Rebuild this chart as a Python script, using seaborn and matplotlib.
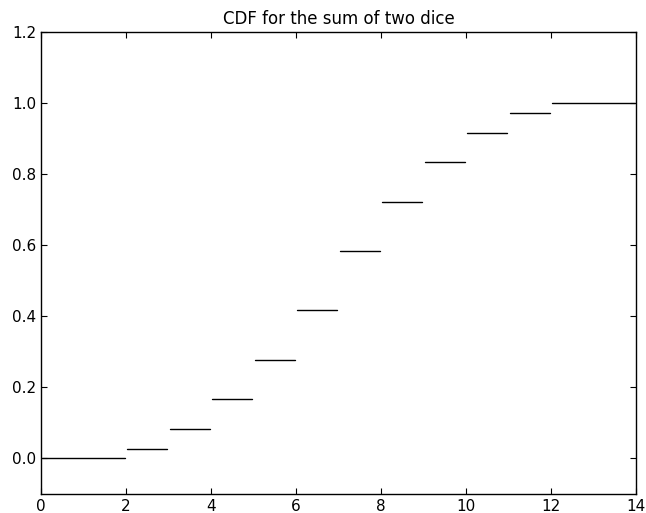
import matplotlib
matplotlib.use("Agg")
import matplotlib.pyplot as plt
import seaborn as sns

# --- Data ---
x_start = [0, 2, 3, 4, 5, 6, 7, 8, 9, 10, 11, 12]
x_end   = [2, 3, 4, 5, 6, 7, 8, 9, 10, 11, 12, 14]
cdf     = [0.0, 0.028, 0.083, 0.167, 0.278, 0.417, 0.583, 0.722, 0.833, 0.917, 0.972, 1.0]

# --- Plot ---
sns.set_style("ticks")
plt.rcParams['font.family'] = ['DejaVu Sans']
plt.rcParams['xtick.direction'] = 'in'
plt.rcParams['ytick.direction'] = 'in'

fig = plt.figure(figsize=(6.46, 5.13), dpi=100)
ax = fig.add_axes([0.0635, 0.037, 0.921, 0.9006])

for x0, x1, v in zip(x_start, x_end, cdf):
    sns.lineplot(x=[x0 + 0.03, x1 - 0.03], y=[v, v], ax=ax, color='black', linewidth=1)

ax.set_xlim(0, 14)
ax.set_ylim(-0.1, 1.2)
ax.set_xticks(range(0, 15, 2))
ax.set_yticks([0.0, 0.2, 0.4, 0.6, 0.8, 1.0, 1.2])
ax.set_yticklabels(['0.0', '0.2', '0.4', '0.6', '0.8', '1.0', '1.2'])
ax.tick_params(top=True, right=True, labelsize=11, length=4, width=0.8, colors='black')
for s in ax.spines.values():
    s.set_color('black')
    s.set_linewidth(1)
ax.set_title('CDF for the sum of two dice', fontsize=12, color='black')

fig.savefig('out.png', dpi=100)
